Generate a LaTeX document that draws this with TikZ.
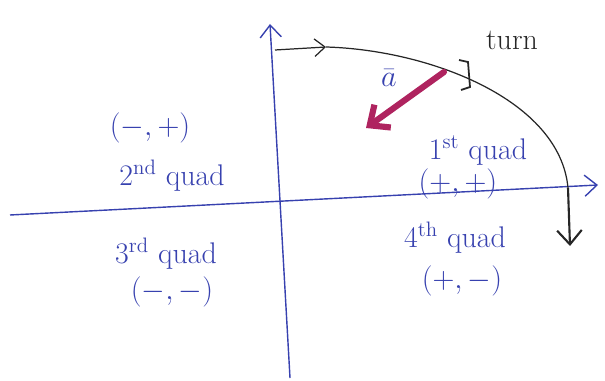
\documentclass[tikz,border=0pt]{standalone}
\usepackage{tikz}
\usetikzlibrary{arrows.meta}
\definecolor{ink}{RGB}{55,65,175}
\definecolor{pinkink}{RGB}{175,35,95}

\begin{document}
\begin{tikzpicture}[x=0.02cm,y=-0.02cm,>=Stealth,font=\fontsize{17}{20}\selectfont,
  axis/.style={ink,line width=.8pt,-{Straight Barb[length=7pt,width=12pt]}},
  pen/.style={black!85,line width=.7pt},
  lbl/.style={ink,inner sep=1pt}]
 \useasboundingbox (0,0) rectangle (605,381);
 % axes
 \coordinate (xl) at (10,215);  \coordinate (xr) at (598,185);
 \coordinate (yb) at (290,378); \coordinate (yt) at (270,24);
 \draw[axis] (xl) -- (xr);
 \draw[axis] (yb) -- (yt);
 % path of the turn
 \coordinate (p0) at (275,50); \coordinate (p1) at (326,47);
 \coordinate (p2) at (568,188); \coordinate (p3) at (570,246);
 \draw[pen,-{Straight Barb[length=6pt,width=10pt]}] (p0) -- (p1);
 \draw[pen] (p1) .. controls (430,50) and (560,100) .. (p2);
 \draw[pen,line width=1.2pt,-{Straight Barb[length=8pt,width=14pt]}] (p2) -- (p3);
 \draw[pen,line width=1pt] (459,60) -- (468,62) -- (470,87) -- (461,90);
 \node[pen] (turn) at (512,40) {turn};
 % acceleration
 \coordinate (a0) at (444,72); \coordinate (a1) at (366,128);
 \draw[pinkink,line width=3.5pt,line cap=round,-{Straight Barb[length=9pt,width=16pt]}] (a0) -- (a1);
 \node[lbl] (abar) at (389,78) {$\bar{a}$};
 % quadrants
 \node[lbl] (q2s) at (150,128) {$(-,+)$};
 \node[lbl] (q2) at (172,176) {2\textsuperscript{nd} quad};
 \node[lbl] (q1) at (478,150) {1\textsuperscript{st} quad};
 \node[lbl] (q1s) at (458,184) {$(+,+)$};
 \node[lbl] (q3) at (166,254) {3\textsuperscript{rd} quad};
 \node[lbl] (q3s) at (172,292) {$(-,-)$};
 \node[lbl] (q4) at (455,238) {4\textsuperscript{th} quad};
 \node[lbl] (q4s) at (462,281) {$(+,-)$};
\end{tikzpicture}
\end{document}
